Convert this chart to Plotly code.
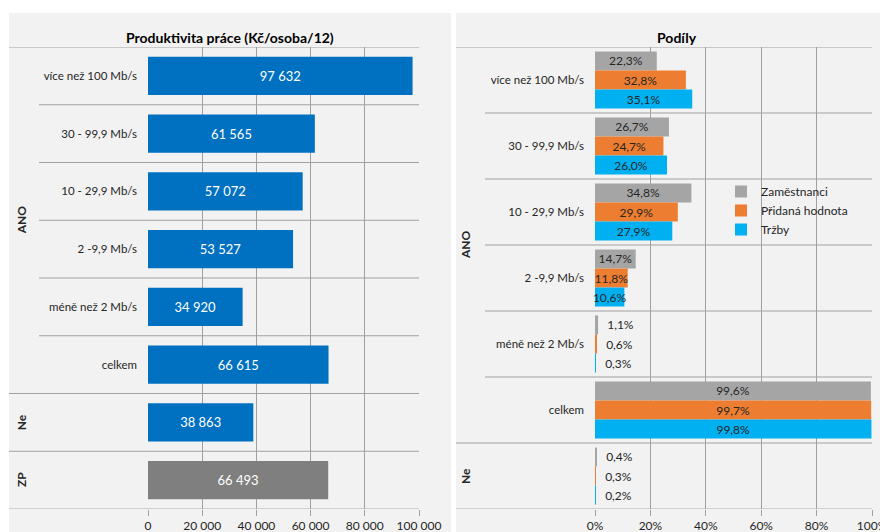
import plotly.graph_objects as go

# ---------------- data ----------------
left_labels = ["více než 100 Mb/s", "30 - 99,9 Mb/s", "10 - 29,9 Mb/s", "2 -9,9 Mb/s",
               "méně než 2 Mb/s", "celkem", "", ""]
left_values = [97632, 61565, 57072, 53527, 34920, 66615, 38863, 66493]
left_groups = ["ANO", "Ne", "ZP"]
left_group_rows = [[0, 1, 2, 3, 4, 5], [6], [7]]

right_labels = ["více než 100 Mb/s", "30 - 99,9 Mb/s", "10 - 29,9 Mb/s", "2 -9,9 Mb/s",
                "méně než 2 Mb/s", "celkem", ""]
right_groups = ["ANO", "Ne"]
right_group_rows = [[0, 1, 2, 3, 4, 5], [6]]
series_names = ["Zaměstnanci", "Přidaná hodnota", "Tržby"]
zamestnanci = [22.3, 26.7, 34.8, 14.7, 1.1, 99.6, 0.4]
pridana = [32.8, 24.7, 29.9, 11.8, 0.6, 99.7, 0.3]
trzby = [35.1, 26.0, 27.9, 10.6, 0.3, 99.8, 0.2]

x_left_ticks = [0, 20000, 40000, 60000, 80000, 100000]
x_right_ticks = [0, 20, 40, 60, 80, 100]
x_right_ticktext = ["0%", "20%", "40%", "60%", "80%", "100%"]

# ---------------- style ----------------
W, H = 880, 532
FONT = "Lato"
BLUE, GREY_BAR = "#0070c0", "#7f7f7f"
SERIES_COLORS = ["#a5a5a5", "#ed7d31", "#00b0f0"]
GRID = "#a0a0a0"
PANEL = "#f2f2f2"
TXT = "#262626"
NB = "\u00a0"

def px_x(v):
    return v / W

def px_y(v):
    return (H - v) / H

fig = go.Figure()

left_colors = [BLUE] * (len(left_values) - 1) + [GREY_BAR]
fig.add_trace(go.Bar(
    x=left_values, y=list(range(len(left_values))), orientation="h",
    marker=dict(color=left_colors, line=dict(width=0)), width=0.66,
    texttemplate="%{x:,.0f}", textposition="inside", insidetextanchor="middle",
    textfont=dict(color="white", size=13, family=FONT),
    showlegend=False, xaxis="x", yaxis="y", hoverinfo="skip",
))

bw = (1 - 0.136) / 3
for k, (name, vals, col) in enumerate(zip(series_names, [zamestnanci, pridana, trzby], SERIES_COLORS)):
    pos = ["outside" if v < 5 else "inside" for v in vals]
    tmpl = [(NB * 2 + "%{x:.1f}%") if v < 5 else "%{x:.1f}%" for v in vals]
    fig.add_trace(go.Bar(
        x=vals, y=list(range(len(vals))), orientation="h", name=name,
        marker=dict(color=col, line=dict(width=0)),
        width=bw, offset=-1.5 * bw + k * bw,
        texttemplate=tmpl, textposition=pos, insidetextanchor="middle",
        constraintext="none",
        textfont=dict(color=TXT, size=12, family=FONT),
        xaxis="x2", yaxis="y2", hoverinfo="skip", cliponaxis=False,
    ))

ydom = [px_y(509), px_y(47)]
axis_common = dict(showline=False, zeroline=False, showgrid=True, gridcolor=GRID, gridwidth=1,
                   ticks="outside", ticklen=6, tickcolor=GRID, automargin=False,
                   ticklabeloverflow="allow",
                   tickfont=dict(size=12, family=FONT, color=TXT))
yfont = dict(size=11.5, family=FONT, color=TXT)

fig.update_layout(
    width=W, height=H, margin=dict(l=0, r=0, t=0, b=0, autoexpand=False),
    paper_bgcolor="white", plot_bgcolor="rgba(0,0,0,0)",
    separators=", ", barmode="group",
    font=dict(family=FONT, size=12, color=TXT),
    xaxis=dict(domain=[px_x(148), px_x(419)], range=[0, 100000], tickvals=x_left_ticks,
               tickformat=",", anchor="y", **axis_common),
    yaxis=dict(domain=ydom, range=[len(left_values) - 0.5, -0.5], tickvals=list(range(len(left_labels))),
               ticktext=left_labels, showgrid=False, zeroline=False, ticks="", ticklabelstandoff=10,
               tickfont=yfont, anchor="x", automargin=False),
    xaxis2=dict(domain=[px_x(595), px_x(872)], range=[0, 100], tickvals=x_right_ticks,
                ticktext=x_right_ticktext, anchor="y2", **axis_common),
    yaxis2=dict(domain=ydom, range=[len(right_labels) - 0.5, -0.5], tickvals=list(range(len(right_labels))),
                ticktext=right_labels, showgrid=False, zeroline=False, ticks="", ticklabelstandoff=10,
                tickfont=yfont, anchor="x2", automargin=False),
    legend=dict(x=px_x(721), y=px_y(177), xanchor="left", yanchor="top",
                bgcolor="rgba(0,0,0,0)", font=dict(size=12, family=FONT, color=TXT),
                itemwidth=30, tracegroupgap=0),
)

shapes = []
# panel backgrounds
shapes.append(dict(type="rect", xref="paper", yref="paper", x0=px_x(9), x1=px_x(451),
                   y0=0, y1=px_y(13), fillcolor=PANEL, line=dict(width=0), layer="below"))
shapes.append(dict(type="rect", xref="paper", yref="paper", x0=px_x(456), x1=1,
                   y0=0, y1=px_y(13), fillcolor=PANEL, line=dict(width=0), layer="below"))

def add_separators(yref, n, group_rows, x_full, x_sub, x_end):
    full = {-0.5} | {rows[-1] + 0.5 for rows in group_rows}
    for i in range(n + 1):
        yv = i - 0.5
        last = (i == n)
        x0 = x_full if yv in full else x_sub
        shapes.append(dict(type="line", xref="paper", yref=yref, x0=px_x(x0), x1=px_x(x_end),
                           y0=yv, y1=yv,
                           line=dict(color="#d0d0d0" if last else GRID, width=2 if last else 1),
                           layer="below"))

add_separators("y", len(left_values), left_group_rows, 9, 39, 419)
add_separators("y2", len(right_labels), right_group_rows, 456, 485, 872)

annotations = []
for g, rows in zip(left_groups, left_group_rows):
    annotations.append(dict(xref="paper", yref="y", x=px_x(21), y=sum(rows) / len(rows), text="<b>%s</b>" % g,
                            textangle=-90, showarrow=False, font=dict(size=12, family=FONT, color=TXT),
                            xanchor="center", yanchor="middle"))
for g, rows in zip(right_groups, right_group_rows):
    annotations.append(dict(xref="paper", yref="y2", x=px_x(465), y=sum(rows) / len(rows), text="<b>%s</b>" % g,
                            textangle=-90, showarrow=False, font=dict(size=12, family=FONT, color=TXT),
                            xanchor="center", yanchor="middle"))
annotations.append(dict(xref="paper", yref="paper", x=px_x(230), y=px_y(37), xanchor="center", yanchor="middle",
                        text="<b>Produktivita práce (Kč/osoba/12)</b>", showarrow=False,
                        font=dict(size=14, family=FONT, color="#000000")))
annotations.append(dict(xref="paper", yref="paper", x=px_x(677), y=px_y(37), xanchor="center", yanchor="middle",
                        text="<b>Podíly</b>", showarrow=False,
                        font=dict(size=14, family=FONT, color="#000000")))

fig.update_layout(shapes=shapes, annotations=annotations)
fig.write_html("out.html")
